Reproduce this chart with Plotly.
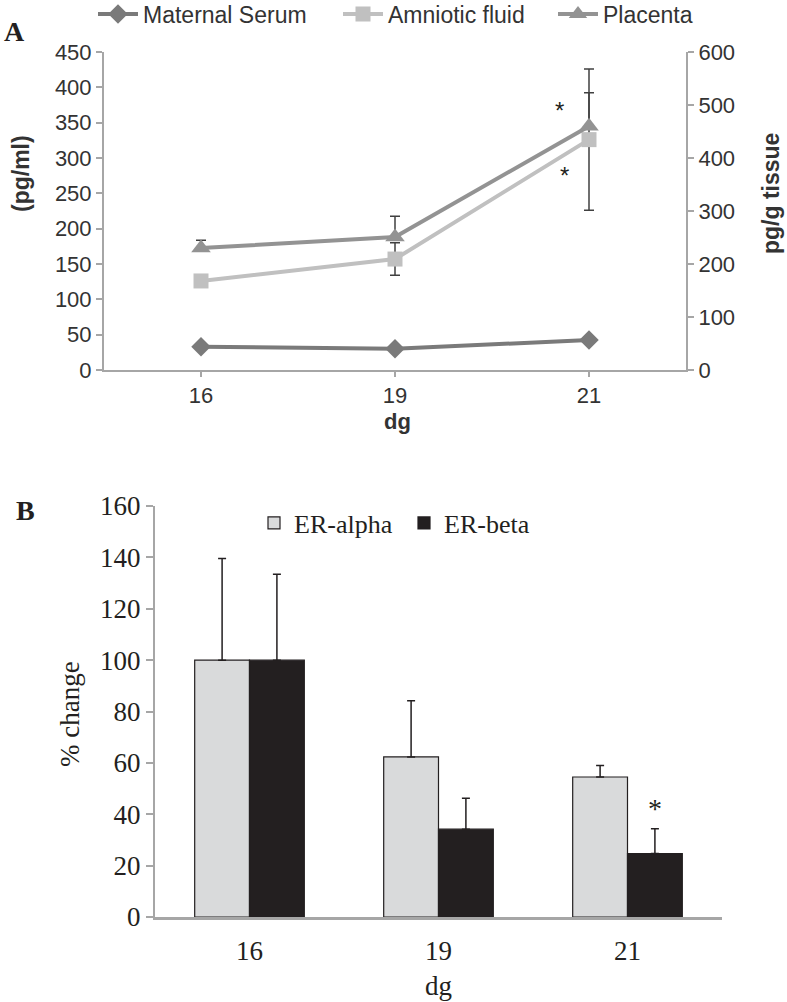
import plotly.graph_objects as go

# ---------------- Data ----------------
days = ["16", "19", "21"]

maternal_serum = [33, 30, 42.5]
maternal_serum_err = [3, 3, 4]
amniotic_fluid = [126, 157, 326]
amniotic_fluid_err = [6, 23, 100]
placenta = [230, 251, 460]          # pg/g tissue (right axis)
placenta_err = [15, 39, 63]         # shown upward only

er_alpha = [100, 62.3, 54.5]
er_alpha_err = [39.6, 21.9, 4.5]
er_beta = [100, 34.2, 24.7]
er_beta_err = [33.4, 12.0, 9.7]

W, H = 787, 1002
def px(x):
    return x / W
def py(y):
    return 1 - y / H

SANS = "Liberation Sans, Arial, sans-serif"
SERIF = "Liberation Serif, Times New Roman, serif"
AX = "#a6a6a6"
TXT = "#333333"
DARK = "#231f20"

fig = go.Figure()

# ---------------- Panel A ----------------
fig.add_trace(go.Scatter(
    x=days, y=maternal_serum, name="Maternal Serum", mode="lines+markers",
    line=dict(color="#7a7a7a", width=4),
    marker=dict(symbol="diamond", size=15, color="#7a7a7a"),
    error_y=dict(type="data", array=maternal_serum_err, color="#404040", thickness=1.5, width=5),
    xaxis="x", yaxis="y", legend="legend"))
fig.add_trace(go.Scatter(
    x=days, y=amniotic_fluid, name="Amniotic fluid", mode="lines+markers",
    line=dict(color="#c0c0c0", width=4),
    marker=dict(symbol="square", size=15, color="#c0c0c0"),
    error_y=dict(type="data", array=amniotic_fluid_err, color="#404040", thickness=1.5, width=5),
    xaxis="x", yaxis="y", legend="legend3"))
fig.add_trace(go.Scatter(
    x=days, y=placenta, name="Placenta", mode="lines+markers",
    line=dict(color="#939393", width=4),
    marker=dict(symbol="triangle-up", size=17, color="#939393"),
    error_y=dict(type="data", array=placenta_err, arrayminus=[0, 0, 0], symmetric=False,
                 color="#404040", thickness=1.5, width=5),
    xaxis="x", yaxis="y2", legend="legend4"))

# ---------------- Panel B ----------------
fig.add_trace(go.Bar(
    x=days, y=er_alpha, name="ER-alpha",
    marker=dict(color="#d9dadb", line=dict(color=DARK, width=1.2)),
    error_y=dict(type="data", array=er_alpha_err, arrayminus=[0, 0, 0], symmetric=False,
                 color=DARK, thickness=1.5, width=4),
    xaxis="x2", yaxis="y3", legend="legend2"))
fig.add_trace(go.Bar(
    x=days, y=er_beta, name="ER-beta",
    marker=dict(color=DARK, line=dict(color=DARK, width=1.2)),
    error_y=dict(type="data", array=er_beta_err, arrayminus=[0, 0, 0], symmetric=False,
                 color=DARK, thickness=1.5, width=4),
    xaxis="x2", yaxis="y3", legend="legend5"))

tickA = dict(family=SANS, size=22, color=TXT)
tickB = dict(family=SERIF, size=27, color=DARK)

def legA(xpx):
    return dict(orientation="h", x=px(xpx), y=py(14), xanchor="left", yanchor="middle",
                font=dict(family=SANS, size=23, color=TXT), bgcolor="rgba(0,0,0,0)",
                itemwidth=40)

def legB(xpx):
    return dict(orientation="h", x=px(xpx), y=py(523), xanchor="left", yanchor="middle",
                font=dict(family=SERIF, size=26, color=DARK), bgcolor="rgba(0,0,0,0)",
                itemwidth=30)

fig.update_layout(
    width=W, height=H, autosize=False,
    margin=dict(l=0, r=0, t=0, b=0, autoexpand=False),
    paper_bgcolor="white", plot_bgcolor="white",
    barmode="group", bargap=0.42, bargroupgap=0,
    xaxis=dict(domain=[px(104), px(686)], anchor="y", type="category",
               range=[-0.5, 2.5], showline=True, linecolor=AX, linewidth=2,
               ticks="outside", ticklen=5, tickcolor=AX, tickwidth=1.5,
               tickfont=tickA, showgrid=False, zeroline=False, automargin=False),
    yaxis=dict(domain=[py(370), py(52)], anchor="x", range=[0, 450], dtick=50,
               showline=True, linecolor=AX, linewidth=2, ticks="outside",
               ticklen=6, tickcolor=AX, tickwidth=1.5, tickfont=tickA,
               showgrid=False, zeroline=False, automargin=False),
    yaxis2=dict(overlaying="y", side="right", anchor="x", range=[0, 600], dtick=100,
                showline=True, linecolor=AX, linewidth=2, ticks="outside",
                ticklen=6, tickcolor=AX, tickwidth=1.5, tickfont=tickA,
                showgrid=False, zeroline=False, automargin=False),
    xaxis2=dict(domain=[px(155), px(722)], anchor="y3", type="category",
                range=[-0.5, 2.5], showline=True, linecolor=AX, linewidth=2.5,
                ticks="", tickfont=tickB, ticklabelstandoff=8,
                showgrid=False, zeroline=False, automargin=False),
    yaxis3=dict(domain=[py(917), py(506)], anchor="x2", range=[0, 160], dtick=20,
                showline=True, linecolor=AX, linewidth=2, ticks="outside",
                ticklen=7, tickcolor=AX, tickwidth=1.5, tickfont=tickB,
                showgrid=False, zeroline=False, automargin=False),
    legend=legA(93),
    legend3=legA(338),
    legend4=legA(553),
    legend2=legB(254),
    legend5=legB(404),
    showlegend=True,
)

ann = []
def A(text, x, y, size, family, bold=False, angle=0, color=TXT):
    ann.append(dict(text=("<b>%s</b>" % text) if bold else text, x=px(x), y=py(y),
                    xref="paper", yref="paper", showarrow=False, textangle=angle,
                    font=dict(family=family, size=size, color=color),
                    xanchor="center", yanchor="middle"))

A("A", 14, 31, 28, SERIF, bold=True, color=DARK)
A("B", 25, 510, 28, SERIF, bold=True, color=DARK)
A("(pg/ml)", 21, 174, 23, SANS, bold=True, angle=-90)
A("pg/g tissue", 771, 194, 23, SANS, bold=True, angle=-90)
A("dg", 398, 421, 22, SANS, bold=True)
A("% change", 70, 714, 27, SERIF, angle=-90, color=DARK)
A("dg", 438, 986, 27, SERIF, color=DARK)

# significance stars anchored to data (category index 2 = day 21)
ann.append(dict(x=2, y=placenta[2], xref="x", yref="y2", text="*", showarrow=False,
                xshift=-30, yshift=16, font=dict(family=SANS, size=24, color=DARK)))
ann.append(dict(x=2, y=amniotic_fluid[2], xref="x", yref="y", text="*", showarrow=False,
                xshift=-25, yshift=-36, font=dict(family=SANS, size=24, color=DARK)))
ann.append(dict(x=2, y=er_beta[2] + er_beta_err[2], xref="x2", yref="y3", text="*",
                showarrow=False, xshift=27, yshift=20,
                font=dict(family=SERIF, size=28, color=DARK)))
fig.update_layout(annotations=ann)

fig.write_html("out.html", config={"displayModeBar": False},
               post_script="document.body.style.margin='0';document.body.style.overflow='hidden';")
